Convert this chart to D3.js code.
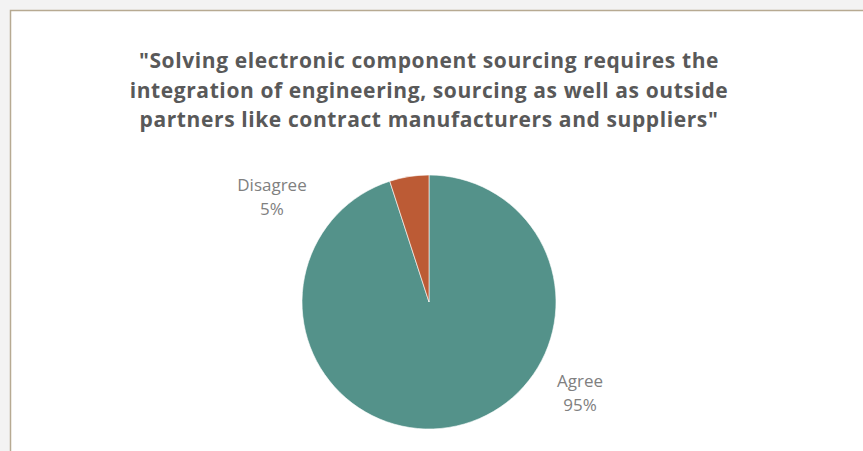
<!DOCTYPE html>
<html><head><meta charset="utf-8">
<script src="https://cdn.jsdelivr.net/npm/d3@7"></script>
<style>html,body{margin:0;padding:0;background:#f3f3f3;overflow:hidden}</style>
</head><body>
<svg id="c" width="863" height="451"></svg>
<script>
const categories = ["Agree", "Disagree"];
const values = [95, 5];
const labels = ["95%", "5%"];
const colors = ["#54928a", "#bc5b35"];
const titleLines = [
  "\"Solving electronic component sourcing requires the",
  "integration of engineering, sourcing as well as outside",
  "partners like contract manufacturers and suppliers\""
];

const svg = d3.select("#c");
svg.append("rect").attr("width",863).attr("height",451).attr("fill","#f3f3f3");
svg.append("rect").attr("x",10.5).attr("y",10.5).attr("width",870).attr("height",460)
  .attr("fill","#fff").attr("stroke","#b7aa92").attr("stroke-width",1.5);

const title = svg.append("text").attr("text-anchor","middle")
  .attr("font-family","'Open Sans', sans-serif").attr("font-weight","bold")
  .attr("font-size",21).attr("letter-spacing",0.6).attr("fill","#595959");
titleLines.forEach((t,i)=>{
  title.append("tspan").attr("x",429).attr("y",68+i*29.5).text(t);
});

const cx = 429, cy = 302, r = 127;
const pie = d3.pie().sort(null).value(d=>d.v);
const data = categories.map((c,i)=>({c, v: values[i], l: labels[i], col: colors[i]}));
const arcs = pie(data);
const arc = d3.arc().innerRadius(0).outerRadius(r);
const g = svg.append("g").attr("transform",`translate(${cx},${cy})`);
g.selectAll("path").data(arcs).enter().append("path")
  .attr("d",arc).attr("fill",d=>d.data.col).attr("stroke","#fff").attr("stroke-width",0.6);

const labelPos = {"Agree":[580,381], "Disagree":[272,185]};
data.forEach(d=>{
  const [x,y] = labelPos[d.c];
  const t = svg.append("text").attr("text-anchor","middle")
    .attr("font-family","'Open Sans', sans-serif").attr("font-size",17)
    .attr("fill","#808080");
  t.append("tspan").attr("x",x).attr("y",y+6).text(d.c);
  t.append("tspan").attr("x",x).attr("y",y+30).text(d.l);
});
</script>
</body></html>
